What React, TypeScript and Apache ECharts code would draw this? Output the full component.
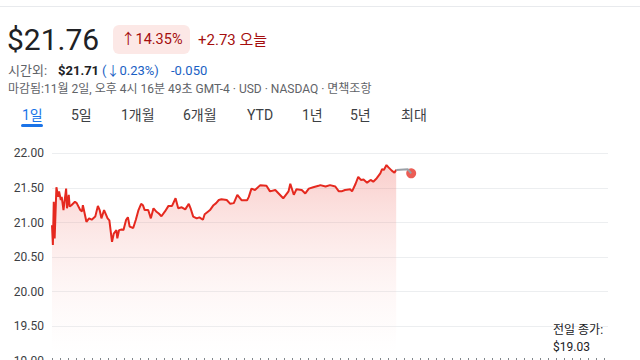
import React, { useEffect, useRef } from "react";
import * as echarts from "echarts";

// minutes since 09:30 (regular session)
const times = [0,1,2,3,5,7,8,10,11,13,16,17,19,20,22,26,28,32,34,35,39,42,45,49,52,54,56,59,63,65,68,70,73,74,76,79,81,84,86,88,92,95,98,101,103,105,109,112,115,118,121,124,128,132,136,140,143,147,151,155,157,160,164,167,171,173,177,179,183,186,189,192,198,202,206,210,215,221,223,226,230,236,243,247,253,262,268,270,274,277,283,287,291,296,302,304,310,315,321,325,328,332,338,340,344,347,350,353,357,361,364,368,372,374,376,379,381,385,388,390];
const prices = [20.96,20.675,21.3,20.77,21.51,21.37,21.45,21.325,21.37,21.18,21.49,21.205,21.4,21.23,21.25,21.3,21.28,21.18,21.16,21.25,21.01,21.06,21.04,21.085,21.24,21.18,21.06,21.18,21.06,21.03,20.72,20.84,20.89,20.77,20.89,20.9,20.89,21.04,21.075,20.94,20.92,21.04,21.18,21.27,21.25,21.18,21.18,21.06,21.205,21.16,21.13,21.09,21.16,21.24,21.24,21.35,21.205,21.22,21.19,21.27,21.205,21.085,21.06,21.075,21.04,21.12,21.16,21.18,21.25,21.28,21.325,21.335,21.325,21.27,21.28,21.4,21.32,21.32,21.37,21.49,21.47,21.54,21.53,21.45,21.47,21.35,21.45,21.56,21.4,21.48,21.47,21.42,21.49,21.51,21.53,21.54,21.52,21.54,21.52,21.45,21.45,21.47,21.48,21.45,21.56,21.66,21.615,21.62,21.576,21.615,21.59,21.64,21.71,21.77,21.76,21.83,21.8,21.75,21.72,21.76];

// after-hours
const ahTimes = [390, 403, 407];
const ahPrices = [21.76, 21.77, 21.71];
const lastTime = 407;
const lastPrice = 21.71;
const prevClose = 19.03;

const yTicks = [19, 19.5, 20, 20.5, 21, 21.5, 22];
const tabs = ["1일", "5일", "1개월", "6개월", "YTD", "1년", "5년", "최대"];
const tabX = [22, 71, 121, 183, 247, 302, 350, 401];

const FONT = "Roboto, 'Noto Sans CJK KR', sans-serif";

function Chart() {
  const ref = useRef<HTMLDivElement>(null);
  useEffect(() => {
    if (!ref.current) return;
    const chart = echarts.init(ref.current, undefined, { renderer: "svg" });
    chart.setOption({
      animation: false,
      grid: { left: 52, right: 32, top: 153.3, bottom: 19.1 },
      xAxis: { type: "value", min: 0, max: 630, show: false },
      yAxis: {
        type: "value",
        min: yTicks[0],
        max: yTicks[yTicks.length - 1],
        interval: 0.5,
        axisLine: { show: false },
        axisTick: { show: false },
        axisLabel: {
          color: "#3c4043",
          fontSize: 12,
          fontFamily: FONT,
          margin: 8,
          formatter: (v: number) => v.toFixed(2),
        },
        splitLine: { lineStyle: { color: "#eceef0", width: 1 } },
      },
      series: [
        {
          type: "line",
          data: times.map((t, i) => [t, prices[i]]),
          showSymbol: false,
          lineStyle: { color: "#e5291f", width: 2 },
          areaStyle: {
            origin: "start",
            color: new echarts.graphic.LinearGradient(0, 0, 0, 1, [
              { offset: 0, color: "rgba(236,80,70,0.4)" },
              { offset: 0.85, color: "rgba(250,220,218,0.1)" },
              { offset: 1, color: "rgba(255,255,255,0)" },
            ]),
          },
          markLine: {
            silent: true,
            symbol: "none",
            label: { show: false },
            lineStyle: { color: "#80868b", type: [1, 7], width: 2 },
            data: [{ yAxis: prevClose }],
          },
        },
        {
          type: "line",
          data: ahTimes.map((t, i) => [t, ahPrices[i]]),
          showSymbol: false,
          lineStyle: { color: "#9aa0a6", width: 2 },
        },
        {
          type: "scatter",
          data: [[lastTime, lastPrice]],
          symbolSize: 10,
          itemStyle: { color: "#e6352a" },
        },
      ],
    });
    return () => chart.dispose();
  }, []);
  return <div ref={ref} style={{ position: "absolute", left: 0, top: 0, width: 640, height: 380 }} />;
}

export default function App() {
  const abs = (left: number, top: number, extra: React.CSSProperties = {}): React.CSSProperties => ({
    position: "absolute",
    left,
    top,
    whiteSpace: "nowrap",
    fontFamily: FONT,
    ...extra,
  });
  return (
    <div style={{ position: "fixed", left: 0, top: 0, width: 640, height: 360, overflow: "hidden", background: "#fff", fontFamily: FONT }}>
      <Chart />
      <div style={{ position: "absolute", left: 0, top: 6, width: 640, height: 1, background: "#e8eaed" }} />
      <div style={abs(7, 22, { fontSize: 30, lineHeight: "36px", color: "#202124" })}>$21.76</div>
      <div style={abs(113, 25, { width: 77, height: 29, borderRadius: 6, background: "#fce8e6" })} />
      <div style={abs(121, 30, { fontSize: 14.5, lineHeight: "20px", color: "#a50e0e" })}>↑14.35%</div>
      <div style={abs(198, 30, { fontSize: 15, lineHeight: "20px", color: "#a50e0e" })}>+2.73 오늘</div>

      <div style={abs(8, 62, { fontSize: 13, lineHeight: "18px", color: "#5f6368" })}>시간외:</div>
      <div style={abs(58, 62, { fontSize: 13, lineHeight: "18px", color: "#202124", fontWeight: 700 })}>$21.71</div>
      <div style={abs(102, 62, { fontSize: 13, lineHeight: "18px", color: "#1a5fc4" })}>(↓0.23%)</div>
      <div style={abs(171, 62, { fontSize: 13, lineHeight: "18px", color: "#1a5fc4" })}>-0.050</div>

      <div style={abs(8, 81, { fontSize: 12, lineHeight: "16px", color: "#5f6368" })}>
        마감됨:11월 2일, 오후 4시 16분 49초 GMT-4 · USD · NASDAQ · 면책조항
      </div>

      {tabs.map((t, i) => (
        <div key={t} style={abs(tabX[i], 105, { fontSize: 14, lineHeight: "20px", color: i === 0 ? "#1a73e8" : "#3c4043" })}>
          {t}
        </div>
      ))}
      <div style={{ position: "absolute", left: 21, top: 124, width: 22, height: 3, borderRadius: 2, background: "#1a73e8" }} />

      <div style={abs(553, 322, { fontSize: 12, lineHeight: "16px", color: "#202124" })}>전일 종가:</div>
      <div style={abs(553, 339, { fontSize: 12, lineHeight: "16px", color: "#202124" })}>$19.03</div>
    </div>
  );
}
